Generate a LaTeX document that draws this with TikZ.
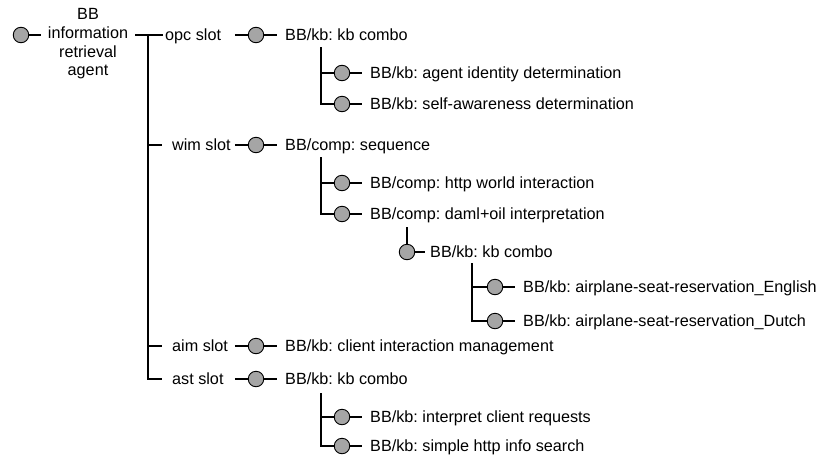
\documentclass[tikz,border=0pt]{standalone}
\usepackage{fontspec}
\setmainfont{Liberation Sans}
\definecolor{dotgray}{RGB}{165,165,165}
\begin{document}
\begin{tikzpicture}[x=1pt,y=-1pt,
  lbl/.style={anchor=base west, inner xsep=0pt, inner ysep=2pt, font=\fontsize{16.2}{18.7}\selectfont\frenchspacing},
  dot/.style={circle, draw, fill=dotgray, line width=0.9pt, minimum size=15.5pt, inner sep=0pt},
  ln/.style={line width=1.1pt}]
\useasboundingbox (0,0) rectangle (818,461);
\def\bo{5.5}
% root
\node[dot] (cRoot) at (21,35) {};
\node[font=\fontsize{16.2}{18.7}\selectfont, align=center, inner xsep=7pt, inner ysep=0pt] (root) at (88,44) {BB\\information\\retrieval\\agent};
\draw[ln] (cRoot.east) -- (cRoot -| root.west);
% slots
\node[lbl] (opc) at (165,35+\bo) {opc slot};
\node[lbl] (wim) at (172,145+\bo) {wim slot};
\node[lbl] (aim) at (172,346+\bo) {aim slot};
\node[lbl] (ast) at (172,379+\bo) {ast slot};
\coordinate (trunk) at (148,35);
\draw[ln] (cRoot -| root.east) -- ([xshift=-2pt]cRoot -| opc.west);
\draw[ln] (trunk) |- ([xshift=-10pt]wim.west |- 0,145);
\draw[ln] (trunk) |- ([xshift=-10pt]aim.west |- 0,346);
\draw[ln] (trunk) |- ([xshift=-10pt]ast.west |- 0,379);
% slot level items
\node[dot] (cOpc) at (256,35) {};
\node[lbl] (kb1) at (285,35+\bo) {BB/kb: kb combo};
\node[dot] (cWim) at (256,145) {};
\node[lbl] (seq) at (285,145+\bo) {BB/comp: sequence};
\node[dot] (cAim) at (256,346) {};
\node[lbl] (cim) at (285,346+\bo) {BB/kb: client interaction management};
\node[dot] (cAst) at (256,379) {};
\node[lbl] (kb3) at (285,379+\bo) {BB/kb: kb combo};
\foreach \c/\t in {cOpc/kb1,cWim/seq,cAim/cim,cAst/kb3}{
  \draw[ln] ([xshift=-13pt]\c.west) -- (\c.west);
  \draw[ln, shorten >=8pt] (\c.east) -- (\c -| \t.west);
}
% children of kb combo (opc)
\node[dot] (cAid) at (342,73) {};
\node[lbl] (aid) at (370,73+\bo) {BB/kb: agent identity determination};
\node[dot] (cSaw) at (342,104) {};
\node[lbl] (saw) at (370,104+\bo) {BB/kb: self-awareness determination};
\coordinate (v1) at (321,47);
% children of sequence
\node[dot] (cHttp) at (342,183) {};
\node[lbl] (http) at (370,183+\bo) {BB/comp: http world interaction};
\node[dot] (cDaml) at (342,214) {};
\node[lbl] (daml) at (370,214+\bo) {BB/comp: daml+oil interpretation};
\coordinate (v2) at (321,157);
% kb combo under daml
\node[dot] (cKb2) at (407,252) {};
\node[lbl] (kb2) at (430,252+\bo) {BB/kb: kb combo};
\coordinate (v3) at (407,227);
\draw[ln] (v3) -- (cKb2.north);
\draw[ln, shorten >=5pt] (cKb2.east) -- (cKb2 -| kb2.west);
% airplane children
\node[dot] (cEng) at (495,287) {};
\node[lbl] (eng) at (523,287+\bo) {BB/kb: airplane-seat-reservation\_English};
\node[dot] (cDut) at (495,321) {};
\node[lbl] (dut) at (523,321+\bo) {BB/kb: airplane-seat-reservation\_Dutch};
\coordinate (v4) at (472,263);
% children of kb combo (ast)
\node[dot] (cInt) at (342,417) {};
\node[lbl] (int) at (370,417+\bo) {BB/kb: interpret client requests};
\node[dot] (cSim) at (342,446) {};
\node[lbl] (sim) at (370,446+\bo) {BB/kb: simple http info search};
\coordinate (v5) at (321,393);
\foreach \v/\c/\t in {v1/cAid/aid,v1/cSaw/saw,v2/cHttp/http,v2/cDaml/daml,v4/cEng/eng,v4/cDut/dut,v5/cInt/int,v5/cSim/sim}{
  \draw[ln] (\v) |- (\c.west);
  \draw[ln, shorten >=8pt] (\c.east) -- (\c -| \t.west);
}
\end{tikzpicture}
\end{document}
